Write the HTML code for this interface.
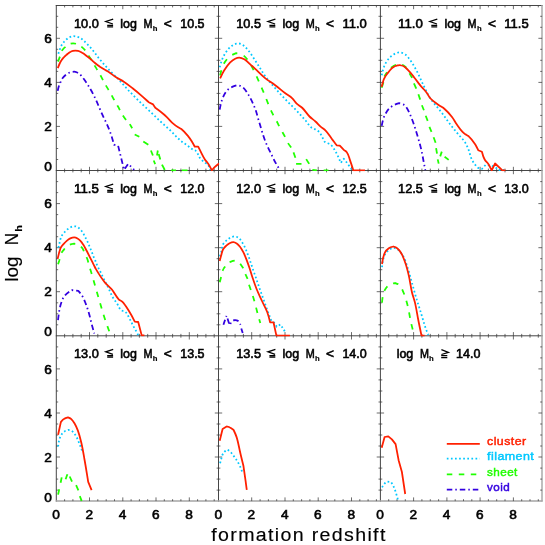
<!DOCTYPE html>
<html><head><meta charset="utf-8"><title>chart</title>
<style>html,body{margin:0;padding:0;background:#fff;}body{width:545px;height:545px;position:relative;overflow:hidden;font-family:"Liberation Sans",sans-serif;}</style>
</head><body>
<svg width="545" height="545" viewBox="0 0 545 545" style="position:absolute;left:0;top:0;opacity:0.999;will-change:transform">
<rect width="545" height="545" fill="#fff"/>
<defs>
<clipPath id="c00"><rect x="56.3" y="4.5" width="163.0" height="166.8"/></clipPath>
<clipPath id="c01"><rect x="218.5" y="4.5" width="162.7" height="166.8"/></clipPath>
<clipPath id="c02"><rect x="380.4" y="4.5" width="162.5" height="166.8"/></clipPath>
<clipPath id="c10"><rect x="56.3" y="169.5" width="163.0" height="167.1"/></clipPath>
<clipPath id="c11"><rect x="218.5" y="169.5" width="162.7" height="167.1"/></clipPath>
<clipPath id="c12"><rect x="380.4" y="169.5" width="162.5" height="167.1"/></clipPath>
<clipPath id="c20"><rect x="56.3" y="334.8" width="163.0" height="167.1"/></clipPath>
<clipPath id="c21"><rect x="218.5" y="334.8" width="162.7" height="167.1"/></clipPath>
<clipPath id="c22"><rect x="380.4" y="334.8" width="162.5" height="167.1"/></clipPath>
</defs>
<g stroke="#3c3c3c" stroke-width="0.95" fill="none">
<line x1="56.3" y1="5.0" x2="56.3" y2="501.6"/>
<line x1="218.5" y1="5.0" x2="218.5" y2="501.6"/>
<line x1="380.4" y1="5.0" x2="380.4" y2="501.6"/>
<line x1="55.8" y1="5.5" x2="542.6" y2="5.5"/>
<line x1="55.8" y1="170.5" x2="542.6" y2="170.5"/>
<line x1="55.8" y1="335.8" x2="542.6" y2="335.8"/>
</g>
<g stroke="#a4a4a4" stroke-width="1.4" fill="none">
<line x1="542.0" y1="5.0" x2="542.0" y2="501.6"/>
<line x1="55.8" y1="501.0" x2="542.6" y2="501.0"/>
</g>
<g stroke="#3c3c3c" stroke-width="0.75" fill="none">
<line x1="64.6" y1="5.5" x2="64.6" y2="7.4"/>
<line x1="64.6" y1="168.6" x2="64.6" y2="172.4"/>
<line x1="64.6" y1="333.9" x2="64.6" y2="337.7"/>
<line x1="64.6" y1="499.2" x2="64.6" y2="501.1"/>
<line x1="72.9" y1="5.5" x2="72.9" y2="7.4"/>
<line x1="72.9" y1="168.6" x2="72.9" y2="172.4"/>
<line x1="72.9" y1="333.9" x2="72.9" y2="337.7"/>
<line x1="72.9" y1="499.2" x2="72.9" y2="501.1"/>
<line x1="81.2" y1="5.5" x2="81.2" y2="7.4"/>
<line x1="81.2" y1="168.6" x2="81.2" y2="172.4"/>
<line x1="81.2" y1="333.9" x2="81.2" y2="337.7"/>
<line x1="81.2" y1="499.2" x2="81.2" y2="501.1"/>
<line x1="89.5" y1="5.5" x2="89.5" y2="9.2"/>
<line x1="89.5" y1="166.8" x2="89.5" y2="174.2"/>
<line x1="89.5" y1="332.1" x2="89.5" y2="339.5"/>
<line x1="89.5" y1="497.4" x2="89.5" y2="501.1"/>
<line x1="97.8" y1="5.5" x2="97.8" y2="7.4"/>
<line x1="97.8" y1="168.6" x2="97.8" y2="172.4"/>
<line x1="97.8" y1="333.9" x2="97.8" y2="337.7"/>
<line x1="97.8" y1="499.2" x2="97.8" y2="501.1"/>
<line x1="106.2" y1="5.5" x2="106.2" y2="7.4"/>
<line x1="106.2" y1="168.6" x2="106.2" y2="172.4"/>
<line x1="106.2" y1="333.9" x2="106.2" y2="337.7"/>
<line x1="106.2" y1="499.2" x2="106.2" y2="501.1"/>
<line x1="114.5" y1="5.5" x2="114.5" y2="7.4"/>
<line x1="114.5" y1="168.6" x2="114.5" y2="172.4"/>
<line x1="114.5" y1="333.9" x2="114.5" y2="337.7"/>
<line x1="114.5" y1="499.2" x2="114.5" y2="501.1"/>
<line x1="122.8" y1="5.5" x2="122.8" y2="9.2"/>
<line x1="122.8" y1="166.8" x2="122.8" y2="174.2"/>
<line x1="122.8" y1="332.1" x2="122.8" y2="339.5"/>
<line x1="122.8" y1="497.4" x2="122.8" y2="501.1"/>
<line x1="131.1" y1="5.5" x2="131.1" y2="7.4"/>
<line x1="131.1" y1="168.6" x2="131.1" y2="172.4"/>
<line x1="131.1" y1="333.9" x2="131.1" y2="337.7"/>
<line x1="131.1" y1="499.2" x2="131.1" y2="501.1"/>
<line x1="139.4" y1="5.5" x2="139.4" y2="7.4"/>
<line x1="139.4" y1="168.6" x2="139.4" y2="172.4"/>
<line x1="139.4" y1="333.9" x2="139.4" y2="337.7"/>
<line x1="139.4" y1="499.2" x2="139.4" y2="501.1"/>
<line x1="147.7" y1="5.5" x2="147.7" y2="7.4"/>
<line x1="147.7" y1="168.6" x2="147.7" y2="172.4"/>
<line x1="147.7" y1="333.9" x2="147.7" y2="337.7"/>
<line x1="147.7" y1="499.2" x2="147.7" y2="501.1"/>
<line x1="156.0" y1="5.5" x2="156.0" y2="9.2"/>
<line x1="156.0" y1="166.8" x2="156.0" y2="174.2"/>
<line x1="156.0" y1="332.1" x2="156.0" y2="339.5"/>
<line x1="156.0" y1="497.4" x2="156.0" y2="501.1"/>
<line x1="164.3" y1="5.5" x2="164.3" y2="7.4"/>
<line x1="164.3" y1="168.6" x2="164.3" y2="172.4"/>
<line x1="164.3" y1="333.9" x2="164.3" y2="337.7"/>
<line x1="164.3" y1="499.2" x2="164.3" y2="501.1"/>
<line x1="172.6" y1="5.5" x2="172.6" y2="7.4"/>
<line x1="172.6" y1="168.6" x2="172.6" y2="172.4"/>
<line x1="172.6" y1="333.9" x2="172.6" y2="337.7"/>
<line x1="172.6" y1="499.2" x2="172.6" y2="501.1"/>
<line x1="180.9" y1="5.5" x2="180.9" y2="7.4"/>
<line x1="180.9" y1="168.6" x2="180.9" y2="172.4"/>
<line x1="180.9" y1="333.9" x2="180.9" y2="337.7"/>
<line x1="180.9" y1="499.2" x2="180.9" y2="501.1"/>
<line x1="189.3" y1="5.5" x2="189.3" y2="9.2"/>
<line x1="189.3" y1="166.8" x2="189.3" y2="174.2"/>
<line x1="189.3" y1="332.1" x2="189.3" y2="339.5"/>
<line x1="189.3" y1="497.4" x2="189.3" y2="501.1"/>
<line x1="197.6" y1="5.5" x2="197.6" y2="7.4"/>
<line x1="197.6" y1="168.6" x2="197.6" y2="172.4"/>
<line x1="197.6" y1="333.9" x2="197.6" y2="337.7"/>
<line x1="197.6" y1="499.2" x2="197.6" y2="501.1"/>
<line x1="205.9" y1="5.5" x2="205.9" y2="7.4"/>
<line x1="205.9" y1="168.6" x2="205.9" y2="172.4"/>
<line x1="205.9" y1="333.9" x2="205.9" y2="337.7"/>
<line x1="205.9" y1="499.2" x2="205.9" y2="501.1"/>
<line x1="214.2" y1="5.5" x2="214.2" y2="7.4"/>
<line x1="214.2" y1="168.6" x2="214.2" y2="172.4"/>
<line x1="214.2" y1="333.9" x2="214.2" y2="337.7"/>
<line x1="214.2" y1="499.2" x2="214.2" y2="501.1"/>
<line x1="226.8" y1="5.5" x2="226.8" y2="7.4"/>
<line x1="226.8" y1="168.6" x2="226.8" y2="172.4"/>
<line x1="226.8" y1="333.9" x2="226.8" y2="337.7"/>
<line x1="226.8" y1="499.2" x2="226.8" y2="501.1"/>
<line x1="235.1" y1="5.5" x2="235.1" y2="7.4"/>
<line x1="235.1" y1="168.6" x2="235.1" y2="172.4"/>
<line x1="235.1" y1="333.9" x2="235.1" y2="337.7"/>
<line x1="235.1" y1="499.2" x2="235.1" y2="501.1"/>
<line x1="243.4" y1="5.5" x2="243.4" y2="7.4"/>
<line x1="243.4" y1="168.6" x2="243.4" y2="172.4"/>
<line x1="243.4" y1="333.9" x2="243.4" y2="337.7"/>
<line x1="243.4" y1="499.2" x2="243.4" y2="501.1"/>
<line x1="251.7" y1="5.5" x2="251.7" y2="9.2"/>
<line x1="251.7" y1="166.8" x2="251.7" y2="174.2"/>
<line x1="251.7" y1="332.1" x2="251.7" y2="339.5"/>
<line x1="251.7" y1="497.4" x2="251.7" y2="501.1"/>
<line x1="260.1" y1="5.5" x2="260.1" y2="7.4"/>
<line x1="260.1" y1="168.6" x2="260.1" y2="172.4"/>
<line x1="260.1" y1="333.9" x2="260.1" y2="337.7"/>
<line x1="260.1" y1="499.2" x2="260.1" y2="501.1"/>
<line x1="268.4" y1="5.5" x2="268.4" y2="7.4"/>
<line x1="268.4" y1="168.6" x2="268.4" y2="172.4"/>
<line x1="268.4" y1="333.9" x2="268.4" y2="337.7"/>
<line x1="268.4" y1="499.2" x2="268.4" y2="501.1"/>
<line x1="276.7" y1="5.5" x2="276.7" y2="7.4"/>
<line x1="276.7" y1="168.6" x2="276.7" y2="172.4"/>
<line x1="276.7" y1="333.9" x2="276.7" y2="337.7"/>
<line x1="276.7" y1="499.2" x2="276.7" y2="501.1"/>
<line x1="285.0" y1="5.5" x2="285.0" y2="9.2"/>
<line x1="285.0" y1="166.8" x2="285.0" y2="174.2"/>
<line x1="285.0" y1="332.1" x2="285.0" y2="339.5"/>
<line x1="285.0" y1="497.4" x2="285.0" y2="501.1"/>
<line x1="293.3" y1="5.5" x2="293.3" y2="7.4"/>
<line x1="293.3" y1="168.6" x2="293.3" y2="172.4"/>
<line x1="293.3" y1="333.9" x2="293.3" y2="337.7"/>
<line x1="293.3" y1="499.2" x2="293.3" y2="501.1"/>
<line x1="301.6" y1="5.5" x2="301.6" y2="7.4"/>
<line x1="301.6" y1="168.6" x2="301.6" y2="172.4"/>
<line x1="301.6" y1="333.9" x2="301.6" y2="337.7"/>
<line x1="301.6" y1="499.2" x2="301.6" y2="501.1"/>
<line x1="309.9" y1="5.5" x2="309.9" y2="7.4"/>
<line x1="309.9" y1="168.6" x2="309.9" y2="172.4"/>
<line x1="309.9" y1="333.9" x2="309.9" y2="337.7"/>
<line x1="309.9" y1="499.2" x2="309.9" y2="501.1"/>
<line x1="318.2" y1="5.5" x2="318.2" y2="9.2"/>
<line x1="318.2" y1="166.8" x2="318.2" y2="174.2"/>
<line x1="318.2" y1="332.1" x2="318.2" y2="339.5"/>
<line x1="318.2" y1="497.4" x2="318.2" y2="501.1"/>
<line x1="326.5" y1="5.5" x2="326.5" y2="7.4"/>
<line x1="326.5" y1="168.6" x2="326.5" y2="172.4"/>
<line x1="326.5" y1="333.9" x2="326.5" y2="337.7"/>
<line x1="326.5" y1="499.2" x2="326.5" y2="501.1"/>
<line x1="334.8" y1="5.5" x2="334.8" y2="7.4"/>
<line x1="334.8" y1="168.6" x2="334.8" y2="172.4"/>
<line x1="334.8" y1="333.9" x2="334.8" y2="337.7"/>
<line x1="334.8" y1="499.2" x2="334.8" y2="501.1"/>
<line x1="343.1" y1="5.5" x2="343.1" y2="7.4"/>
<line x1="343.1" y1="168.6" x2="343.1" y2="172.4"/>
<line x1="343.1" y1="333.9" x2="343.1" y2="337.7"/>
<line x1="343.1" y1="499.2" x2="343.1" y2="501.1"/>
<line x1="351.5" y1="5.5" x2="351.5" y2="9.2"/>
<line x1="351.5" y1="166.8" x2="351.5" y2="174.2"/>
<line x1="351.5" y1="332.1" x2="351.5" y2="339.5"/>
<line x1="351.5" y1="497.4" x2="351.5" y2="501.1"/>
<line x1="359.8" y1="5.5" x2="359.8" y2="7.4"/>
<line x1="359.8" y1="168.6" x2="359.8" y2="172.4"/>
<line x1="359.8" y1="333.9" x2="359.8" y2="337.7"/>
<line x1="359.8" y1="499.2" x2="359.8" y2="501.1"/>
<line x1="368.1" y1="5.5" x2="368.1" y2="7.4"/>
<line x1="368.1" y1="168.6" x2="368.1" y2="172.4"/>
<line x1="368.1" y1="333.9" x2="368.1" y2="337.7"/>
<line x1="368.1" y1="499.2" x2="368.1" y2="501.1"/>
<line x1="376.4" y1="5.5" x2="376.4" y2="7.4"/>
<line x1="376.4" y1="168.6" x2="376.4" y2="172.4"/>
<line x1="376.4" y1="333.9" x2="376.4" y2="337.7"/>
<line x1="376.4" y1="499.2" x2="376.4" y2="501.1"/>
<line x1="388.7" y1="5.5" x2="388.7" y2="7.4"/>
<line x1="388.7" y1="168.6" x2="388.7" y2="172.4"/>
<line x1="388.7" y1="333.9" x2="388.7" y2="337.7"/>
<line x1="388.7" y1="499.2" x2="388.7" y2="501.1"/>
<line x1="397.0" y1="5.5" x2="397.0" y2="7.4"/>
<line x1="397.0" y1="168.6" x2="397.0" y2="172.4"/>
<line x1="397.0" y1="333.9" x2="397.0" y2="337.7"/>
<line x1="397.0" y1="499.2" x2="397.0" y2="501.1"/>
<line x1="405.3" y1="5.5" x2="405.3" y2="7.4"/>
<line x1="405.3" y1="168.6" x2="405.3" y2="172.4"/>
<line x1="405.3" y1="333.9" x2="405.3" y2="337.7"/>
<line x1="405.3" y1="499.2" x2="405.3" y2="501.1"/>
<line x1="413.6" y1="5.5" x2="413.6" y2="9.2"/>
<line x1="413.6" y1="166.8" x2="413.6" y2="174.2"/>
<line x1="413.6" y1="332.1" x2="413.6" y2="339.5"/>
<line x1="413.6" y1="497.4" x2="413.6" y2="501.1"/>
<line x1="421.9" y1="5.5" x2="421.9" y2="7.4"/>
<line x1="421.9" y1="168.6" x2="421.9" y2="172.4"/>
<line x1="421.9" y1="333.9" x2="421.9" y2="337.7"/>
<line x1="421.9" y1="499.2" x2="421.9" y2="501.1"/>
<line x1="430.3" y1="5.5" x2="430.3" y2="7.4"/>
<line x1="430.3" y1="168.6" x2="430.3" y2="172.4"/>
<line x1="430.3" y1="333.9" x2="430.3" y2="337.7"/>
<line x1="430.3" y1="499.2" x2="430.3" y2="501.1"/>
<line x1="438.6" y1="5.5" x2="438.6" y2="7.4"/>
<line x1="438.6" y1="168.6" x2="438.6" y2="172.4"/>
<line x1="438.6" y1="333.9" x2="438.6" y2="337.7"/>
<line x1="438.6" y1="499.2" x2="438.6" y2="501.1"/>
<line x1="446.9" y1="5.5" x2="446.9" y2="9.2"/>
<line x1="446.9" y1="166.8" x2="446.9" y2="174.2"/>
<line x1="446.9" y1="332.1" x2="446.9" y2="339.5"/>
<line x1="446.9" y1="497.4" x2="446.9" y2="501.1"/>
<line x1="455.2" y1="5.5" x2="455.2" y2="7.4"/>
<line x1="455.2" y1="168.6" x2="455.2" y2="172.4"/>
<line x1="455.2" y1="333.9" x2="455.2" y2="337.7"/>
<line x1="455.2" y1="499.2" x2="455.2" y2="501.1"/>
<line x1="463.5" y1="5.5" x2="463.5" y2="7.4"/>
<line x1="463.5" y1="168.6" x2="463.5" y2="172.4"/>
<line x1="463.5" y1="333.9" x2="463.5" y2="337.7"/>
<line x1="463.5" y1="499.2" x2="463.5" y2="501.1"/>
<line x1="471.8" y1="5.5" x2="471.8" y2="7.4"/>
<line x1="471.8" y1="168.6" x2="471.8" y2="172.4"/>
<line x1="471.8" y1="333.9" x2="471.8" y2="337.7"/>
<line x1="471.8" y1="499.2" x2="471.8" y2="501.1"/>
<line x1="480.1" y1="5.5" x2="480.1" y2="9.2"/>
<line x1="480.1" y1="166.8" x2="480.1" y2="174.2"/>
<line x1="480.1" y1="332.1" x2="480.1" y2="339.5"/>
<line x1="480.1" y1="497.4" x2="480.1" y2="501.1"/>
<line x1="488.4" y1="5.5" x2="488.4" y2="7.4"/>
<line x1="488.4" y1="168.6" x2="488.4" y2="172.4"/>
<line x1="488.4" y1="333.9" x2="488.4" y2="337.7"/>
<line x1="488.4" y1="499.2" x2="488.4" y2="501.1"/>
<line x1="496.7" y1="5.5" x2="496.7" y2="7.4"/>
<line x1="496.7" y1="168.6" x2="496.7" y2="172.4"/>
<line x1="496.7" y1="333.9" x2="496.7" y2="337.7"/>
<line x1="496.7" y1="499.2" x2="496.7" y2="501.1"/>
<line x1="505.0" y1="5.5" x2="505.0" y2="7.4"/>
<line x1="505.0" y1="168.6" x2="505.0" y2="172.4"/>
<line x1="505.0" y1="333.9" x2="505.0" y2="337.7"/>
<line x1="505.0" y1="499.2" x2="505.0" y2="501.1"/>
<line x1="513.4" y1="5.5" x2="513.4" y2="9.2"/>
<line x1="513.4" y1="166.8" x2="513.4" y2="174.2"/>
<line x1="513.4" y1="332.1" x2="513.4" y2="339.5"/>
<line x1="513.4" y1="497.4" x2="513.4" y2="501.1"/>
<line x1="521.7" y1="5.5" x2="521.7" y2="7.4"/>
<line x1="521.7" y1="168.6" x2="521.7" y2="172.4"/>
<line x1="521.7" y1="333.9" x2="521.7" y2="337.7"/>
<line x1="521.7" y1="499.2" x2="521.7" y2="501.1"/>
<line x1="530.0" y1="5.5" x2="530.0" y2="7.4"/>
<line x1="530.0" y1="168.6" x2="530.0" y2="172.4"/>
<line x1="530.0" y1="333.9" x2="530.0" y2="337.7"/>
<line x1="530.0" y1="499.2" x2="530.0" y2="501.1"/>
<line x1="538.3" y1="5.5" x2="538.3" y2="7.4"/>
<line x1="538.3" y1="168.6" x2="538.3" y2="172.4"/>
<line x1="538.3" y1="333.9" x2="538.3" y2="337.7"/>
<line x1="538.3" y1="499.2" x2="538.3" y2="501.1"/>
<line x1="56.3" y1="159.5" x2="58.2" y2="159.5"/>
<line x1="216.6" y1="159.5" x2="220.4" y2="159.5"/>
<line x1="378.5" y1="159.5" x2="382.3" y2="159.5"/>
<line x1="540.2" y1="159.5" x2="542.1" y2="159.5"/>
<line x1="56.3" y1="148.5" x2="58.2" y2="148.5"/>
<line x1="216.6" y1="148.5" x2="220.4" y2="148.5"/>
<line x1="378.5" y1="148.5" x2="382.3" y2="148.5"/>
<line x1="540.2" y1="148.5" x2="542.1" y2="148.5"/>
<line x1="56.3" y1="137.5" x2="58.2" y2="137.5"/>
<line x1="216.6" y1="137.5" x2="220.4" y2="137.5"/>
<line x1="378.5" y1="137.5" x2="382.3" y2="137.5"/>
<line x1="540.2" y1="137.5" x2="542.1" y2="137.5"/>
<line x1="56.3" y1="126.4" x2="60.0" y2="126.4"/>
<line x1="214.8" y1="126.4" x2="222.2" y2="126.4"/>
<line x1="376.7" y1="126.4" x2="384.1" y2="126.4"/>
<line x1="538.4" y1="126.4" x2="542.1" y2="126.4"/>
<line x1="56.3" y1="115.4" x2="58.2" y2="115.4"/>
<line x1="216.6" y1="115.4" x2="220.4" y2="115.4"/>
<line x1="378.5" y1="115.4" x2="382.3" y2="115.4"/>
<line x1="540.2" y1="115.4" x2="542.1" y2="115.4"/>
<line x1="56.3" y1="104.4" x2="58.2" y2="104.4"/>
<line x1="216.6" y1="104.4" x2="220.4" y2="104.4"/>
<line x1="378.5" y1="104.4" x2="382.3" y2="104.4"/>
<line x1="540.2" y1="104.4" x2="542.1" y2="104.4"/>
<line x1="56.3" y1="93.4" x2="58.2" y2="93.4"/>
<line x1="216.6" y1="93.4" x2="220.4" y2="93.4"/>
<line x1="378.5" y1="93.4" x2="382.3" y2="93.4"/>
<line x1="540.2" y1="93.4" x2="542.1" y2="93.4"/>
<line x1="56.3" y1="82.4" x2="60.0" y2="82.4"/>
<line x1="214.8" y1="82.4" x2="222.2" y2="82.4"/>
<line x1="376.7" y1="82.4" x2="384.1" y2="82.4"/>
<line x1="538.4" y1="82.4" x2="542.1" y2="82.4"/>
<line x1="56.3" y1="71.4" x2="58.2" y2="71.4"/>
<line x1="216.6" y1="71.4" x2="220.4" y2="71.4"/>
<line x1="378.5" y1="71.4" x2="382.3" y2="71.4"/>
<line x1="540.2" y1="71.4" x2="542.1" y2="71.4"/>
<line x1="56.3" y1="60.3" x2="58.2" y2="60.3"/>
<line x1="216.6" y1="60.3" x2="220.4" y2="60.3"/>
<line x1="378.5" y1="60.3" x2="382.3" y2="60.3"/>
<line x1="540.2" y1="60.3" x2="542.1" y2="60.3"/>
<line x1="56.3" y1="49.3" x2="58.2" y2="49.3"/>
<line x1="216.6" y1="49.3" x2="220.4" y2="49.3"/>
<line x1="378.5" y1="49.3" x2="382.3" y2="49.3"/>
<line x1="540.2" y1="49.3" x2="542.1" y2="49.3"/>
<line x1="56.3" y1="38.3" x2="60.0" y2="38.3"/>
<line x1="214.8" y1="38.3" x2="222.2" y2="38.3"/>
<line x1="376.7" y1="38.3" x2="384.1" y2="38.3"/>
<line x1="538.4" y1="38.3" x2="542.1" y2="38.3"/>
<line x1="56.3" y1="27.3" x2="58.2" y2="27.3"/>
<line x1="216.6" y1="27.3" x2="220.4" y2="27.3"/>
<line x1="378.5" y1="27.3" x2="382.3" y2="27.3"/>
<line x1="540.2" y1="27.3" x2="542.1" y2="27.3"/>
<line x1="56.3" y1="16.3" x2="58.2" y2="16.3"/>
<line x1="216.6" y1="16.3" x2="220.4" y2="16.3"/>
<line x1="378.5" y1="16.3" x2="382.3" y2="16.3"/>
<line x1="540.2" y1="16.3" x2="542.1" y2="16.3"/>
<line x1="56.3" y1="324.8" x2="58.2" y2="324.8"/>
<line x1="216.6" y1="324.8" x2="220.4" y2="324.8"/>
<line x1="378.5" y1="324.8" x2="382.3" y2="324.8"/>
<line x1="540.2" y1="324.8" x2="542.1" y2="324.8"/>
<line x1="56.3" y1="313.8" x2="58.2" y2="313.8"/>
<line x1="216.6" y1="313.8" x2="220.4" y2="313.8"/>
<line x1="378.5" y1="313.8" x2="382.3" y2="313.8"/>
<line x1="540.2" y1="313.8" x2="542.1" y2="313.8"/>
<line x1="56.3" y1="302.8" x2="58.2" y2="302.8"/>
<line x1="216.6" y1="302.8" x2="220.4" y2="302.8"/>
<line x1="378.5" y1="302.8" x2="382.3" y2="302.8"/>
<line x1="540.2" y1="302.8" x2="542.1" y2="302.8"/>
<line x1="56.3" y1="291.7" x2="60.0" y2="291.7"/>
<line x1="214.8" y1="291.7" x2="222.2" y2="291.7"/>
<line x1="376.7" y1="291.7" x2="384.1" y2="291.7"/>
<line x1="538.4" y1="291.7" x2="542.1" y2="291.7"/>
<line x1="56.3" y1="280.7" x2="58.2" y2="280.7"/>
<line x1="216.6" y1="280.7" x2="220.4" y2="280.7"/>
<line x1="378.5" y1="280.7" x2="382.3" y2="280.7"/>
<line x1="540.2" y1="280.7" x2="542.1" y2="280.7"/>
<line x1="56.3" y1="269.7" x2="58.2" y2="269.7"/>
<line x1="216.6" y1="269.7" x2="220.4" y2="269.7"/>
<line x1="378.5" y1="269.7" x2="382.3" y2="269.7"/>
<line x1="540.2" y1="269.7" x2="542.1" y2="269.7"/>
<line x1="56.3" y1="258.7" x2="58.2" y2="258.7"/>
<line x1="216.6" y1="258.7" x2="220.4" y2="258.7"/>
<line x1="378.5" y1="258.7" x2="382.3" y2="258.7"/>
<line x1="540.2" y1="258.7" x2="542.1" y2="258.7"/>
<line x1="56.3" y1="247.7" x2="60.0" y2="247.7"/>
<line x1="214.8" y1="247.7" x2="222.2" y2="247.7"/>
<line x1="376.7" y1="247.7" x2="384.1" y2="247.7"/>
<line x1="538.4" y1="247.7" x2="542.1" y2="247.7"/>
<line x1="56.3" y1="236.7" x2="58.2" y2="236.7"/>
<line x1="216.6" y1="236.7" x2="220.4" y2="236.7"/>
<line x1="378.5" y1="236.7" x2="382.3" y2="236.7"/>
<line x1="540.2" y1="236.7" x2="542.1" y2="236.7"/>
<line x1="56.3" y1="225.7" x2="58.2" y2="225.7"/>
<line x1="216.6" y1="225.7" x2="220.4" y2="225.7"/>
<line x1="378.5" y1="225.7" x2="382.3" y2="225.7"/>
<line x1="540.2" y1="225.7" x2="542.1" y2="225.7"/>
<line x1="56.3" y1="214.6" x2="58.2" y2="214.6"/>
<line x1="216.6" y1="214.6" x2="220.4" y2="214.6"/>
<line x1="378.5" y1="214.6" x2="382.3" y2="214.6"/>
<line x1="540.2" y1="214.6" x2="542.1" y2="214.6"/>
<line x1="56.3" y1="203.6" x2="60.0" y2="203.6"/>
<line x1="214.8" y1="203.6" x2="222.2" y2="203.6"/>
<line x1="376.7" y1="203.6" x2="384.1" y2="203.6"/>
<line x1="538.4" y1="203.6" x2="542.1" y2="203.6"/>
<line x1="56.3" y1="192.6" x2="58.2" y2="192.6"/>
<line x1="216.6" y1="192.6" x2="220.4" y2="192.6"/>
<line x1="378.5" y1="192.6" x2="382.3" y2="192.6"/>
<line x1="540.2" y1="192.6" x2="542.1" y2="192.6"/>
<line x1="56.3" y1="181.6" x2="58.2" y2="181.6"/>
<line x1="216.6" y1="181.6" x2="220.4" y2="181.6"/>
<line x1="378.5" y1="181.6" x2="382.3" y2="181.6"/>
<line x1="540.2" y1="181.6" x2="542.1" y2="181.6"/>
<line x1="56.3" y1="490.1" x2="58.2" y2="490.1"/>
<line x1="216.6" y1="490.1" x2="220.4" y2="490.1"/>
<line x1="378.5" y1="490.1" x2="382.3" y2="490.1"/>
<line x1="540.2" y1="490.1" x2="542.1" y2="490.1"/>
<line x1="56.3" y1="479.1" x2="58.2" y2="479.1"/>
<line x1="216.6" y1="479.1" x2="220.4" y2="479.1"/>
<line x1="378.5" y1="479.1" x2="382.3" y2="479.1"/>
<line x1="540.2" y1="479.1" x2="542.1" y2="479.1"/>
<line x1="56.3" y1="468.1" x2="58.2" y2="468.1"/>
<line x1="216.6" y1="468.1" x2="220.4" y2="468.1"/>
<line x1="378.5" y1="468.1" x2="382.3" y2="468.1"/>
<line x1="540.2" y1="468.1" x2="542.1" y2="468.1"/>
<line x1="56.3" y1="457.0" x2="60.0" y2="457.0"/>
<line x1="214.8" y1="457.0" x2="222.2" y2="457.0"/>
<line x1="376.7" y1="457.0" x2="384.1" y2="457.0"/>
<line x1="538.4" y1="457.0" x2="542.1" y2="457.0"/>
<line x1="56.3" y1="446.0" x2="58.2" y2="446.0"/>
<line x1="216.6" y1="446.0" x2="220.4" y2="446.0"/>
<line x1="378.5" y1="446.0" x2="382.3" y2="446.0"/>
<line x1="540.2" y1="446.0" x2="542.1" y2="446.0"/>
<line x1="56.3" y1="435.0" x2="58.2" y2="435.0"/>
<line x1="216.6" y1="435.0" x2="220.4" y2="435.0"/>
<line x1="378.5" y1="435.0" x2="382.3" y2="435.0"/>
<line x1="540.2" y1="435.0" x2="542.1" y2="435.0"/>
<line x1="56.3" y1="424.0" x2="58.2" y2="424.0"/>
<line x1="216.6" y1="424.0" x2="220.4" y2="424.0"/>
<line x1="378.5" y1="424.0" x2="382.3" y2="424.0"/>
<line x1="540.2" y1="424.0" x2="542.1" y2="424.0"/>
<line x1="56.3" y1="413.0" x2="60.0" y2="413.0"/>
<line x1="214.8" y1="413.0" x2="222.2" y2="413.0"/>
<line x1="376.7" y1="413.0" x2="384.1" y2="413.0"/>
<line x1="538.4" y1="413.0" x2="542.1" y2="413.0"/>
<line x1="56.3" y1="402.0" x2="58.2" y2="402.0"/>
<line x1="216.6" y1="402.0" x2="220.4" y2="402.0"/>
<line x1="378.5" y1="402.0" x2="382.3" y2="402.0"/>
<line x1="540.2" y1="402.0" x2="542.1" y2="402.0"/>
<line x1="56.3" y1="391.0" x2="58.2" y2="391.0"/>
<line x1="216.6" y1="391.0" x2="220.4" y2="391.0"/>
<line x1="378.5" y1="391.0" x2="382.3" y2="391.0"/>
<line x1="540.2" y1="391.0" x2="542.1" y2="391.0"/>
<line x1="56.3" y1="379.9" x2="58.2" y2="379.9"/>
<line x1="216.6" y1="379.9" x2="220.4" y2="379.9"/>
<line x1="378.5" y1="379.9" x2="382.3" y2="379.9"/>
<line x1="540.2" y1="379.9" x2="542.1" y2="379.9"/>
<line x1="56.3" y1="368.9" x2="60.0" y2="368.9"/>
<line x1="214.8" y1="368.9" x2="222.2" y2="368.9"/>
<line x1="376.7" y1="368.9" x2="384.1" y2="368.9"/>
<line x1="538.4" y1="368.9" x2="542.1" y2="368.9"/>
<line x1="56.3" y1="357.9" x2="58.2" y2="357.9"/>
<line x1="216.6" y1="357.9" x2="220.4" y2="357.9"/>
<line x1="378.5" y1="357.9" x2="382.3" y2="357.9"/>
<line x1="540.2" y1="357.9" x2="542.1" y2="357.9"/>
<line x1="56.3" y1="346.9" x2="58.2" y2="346.9"/>
<line x1="216.6" y1="346.9" x2="220.4" y2="346.9"/>
<line x1="378.5" y1="346.9" x2="382.3" y2="346.9"/>
<line x1="540.2" y1="346.9" x2="542.1" y2="346.9"/>
</g>
<g clip-path="url(#c00)" fill="none" stroke-width="1.78" stroke-linejoin="round">
<path d="M58.3,53.7 C58.8,52.4 59.2,51.0 59.7,49.7 C60.1,48.6 60.5,47.4 61.0,46.3 C61.6,45.1 62.4,43.9 63.2,42.8 C64.0,41.8 64.9,40.8 65.9,39.9 C66.9,39.0 67.8,38.1 69.0,37.5 C70.2,36.9 71.5,36.4 72.8,36.2 C74.2,36.0 75.6,36.3 76.9,36.6 C78.3,37.0 79.6,37.6 80.8,38.3 C81.9,39.0 82.8,39.9 83.8,40.8 C84.8,41.7 85.7,42.6 86.7,43.6 C87.7,44.6 88.6,45.5 89.5,46.5 C90.4,47.4 91.2,48.4 92.0,49.4 C92.9,50.4 93.7,51.5 94.5,52.5 C95.3,53.6 96.2,54.6 97.0,55.7 C97.9,56.9 98.7,58.1 99.6,59.2 C100.4,60.2 101.3,61.1 102.1,62.1 C102.9,63.1 103.8,64.0 104.6,65.0 C106.5,67.2 108.5,69.3 110.5,71.4 C113.6,74.7 117.0,77.8 120.1,81.1 C123.5,84.7 126.7,88.6 130.2,92.2 C133.5,95.6 136.9,99.0 140.3,102.3 C143.6,105.5 147.0,108.6 150.4,111.8 C153.8,115.0 157.1,118.3 160.5,121.5 C163.8,124.6 167.2,127.5 170.5,130.6 C173.9,133.9 177.0,137.6 180.6,140.7 C182.8,142.6 185.4,144.0 187.7,145.7 C189.4,146.9 190.9,148.4 192.7,149.4 C193.7,150.0 195.0,150.0 195.8,150.8 C197.8,152.6 198.2,155.7 199.8,157.8 C200.9,159.3 202.4,160.6 203.8,161.9 C205.1,163.0 206.8,163.6 207.9,164.9 C209.1,166.3 209.7,168.1 210.3,169.9" stroke="#00c8ff" stroke-dasharray="1.7 2.4"/>
<path d="M58.0,61.7 C58.7,60.0 59.3,58.3 59.9,56.6 C60.5,54.9 60.7,53.0 61.5,51.4 C62.0,50.4 62.7,49.4 63.5,48.6 C64.1,47.9 64.9,47.4 65.6,46.8 C66.4,46.2 67.2,45.5 68.0,45.0 C68.7,44.5 69.4,44.1 70.2,43.8 C71.2,43.5 72.2,43.4 73.2,43.4 C74.2,43.4 75.2,43.5 76.2,43.8 C77.2,44.1 78.1,44.5 79.0,45.0 C79.8,45.4 80.5,45.9 81.2,46.5 C82.7,47.7 84.2,49.1 85.4,50.6 C86.7,52.2 87.5,54.0 88.6,55.7 C89.6,57.3 90.8,58.7 91.8,60.3 C92.8,61.9 93.6,63.7 94.5,65.3 C95.4,66.9 96.4,68.4 97.3,70.0 C98.3,71.7 99.3,73.4 100.3,75.1 C102.1,78.2 103.6,81.5 105.4,84.6 C107.0,87.5 108.9,90.3 110.5,93.2 C111.8,95.4 112.9,97.8 114.2,100.0 C115.5,102.3 116.8,104.4 118.1,106.7 C119.5,109.3 120.8,112.0 122.3,114.5 C123.4,116.4 124.7,118.1 126.0,119.9" stroke="#20ff00" stroke-dasharray="5.4 6.12" pathLength="120.60"/>
<path d="M129.8,124.1 L132.2,128.3" stroke="#20ff00" />
<path d="M134.7,134.5 L139.3,136.8" stroke="#20ff00" />
<path d="M143.3,141.5 L148.3,144.8" stroke="#20ff00" />
<path d="M150.9,150.5 L152.9,155.5" stroke="#20ff00" />
<path d="M153.7,160.5 L155.2,164.2" stroke="#20ff00" />
<path d="M157.0,155.5 L157.8,150.5" stroke="#20ff00" />
<path d="M158.7,153.9 L160.3,159.6" stroke="#20ff00" />
<path d="M162.0,164.6 L164.8,170.0" stroke="#20ff00" />
<path d="M171.1,170.3 L176.0,170.3" stroke="#20ff00" />
<path d="M181.8,170.3 L187.6,170.3" stroke="#20ff00" />
<path d="M57.7,90.9 C58.1,88.8 58.6,86.8 59.3,84.8 C59.6,83.9 60.2,83.0 60.6,82.1 C61.1,81.0 61.4,79.8 62.1,78.8 C63.1,77.2 64.5,75.9 65.9,74.7 C66.9,73.9 68.0,73.2 69.2,72.7 C70.2,72.3 71.4,72.0 72.5,71.8 C73.4,71.7 74.4,71.6 75.3,71.8 C76.3,72.0 77.2,72.4 78.0,72.9 C79.2,73.6 80.3,74.7 81.3,75.7 C82.0,76.5 82.7,77.3 83.3,78.2 C84.5,79.8 85.7,81.5 86.8,83.2 C88.0,85.0 89.0,86.9 90.1,88.7 C91.2,90.5 92.2,92.3 93.2,94.2 C94.3,96.2 95.2,98.3 96.2,100.4 C97.0,102.1 97.7,103.8 98.4,105.5 C99.3,107.6 100.2,109.7 101.1,111.8 C104.0,118.4 107.5,124.8 110.0,131.6 C111.6,135.9 112.8,140.3 114.0,144.7 L118.1,145.7 C119.1,149.7 120.1,153.8 121.1,157.8 C122.1,161.8 123.1,165.9 124.1,169.9 L128.2,163.9 L134.2,169.9" stroke="#3300e0" stroke-dasharray="5.5 3 1.5 3"/>
<path d="M57.8,68.1 C58.4,66.5 59.0,65.0 59.7,63.5 C60.2,62.4 60.8,61.3 61.5,60.3 C62.2,59.2 62.9,58.2 63.8,57.3 C64.5,56.5 65.3,55.9 66.1,55.2 C66.9,54.5 67.6,53.8 68.4,53.2 C69.1,52.6 69.9,52.1 70.7,51.7 C71.4,51.3 72.2,51.1 73.0,50.9 C73.8,50.7 74.5,50.6 75.3,50.6 C76.2,50.6 77.1,50.7 78.0,50.9 C78.8,51.1 79.6,51.4 80.3,51.8 C81.1,52.2 81.9,52.6 82.6,53.1 C83.9,53.9 85.1,54.8 86.3,55.7 C87.9,56.9 89.4,58.1 90.9,59.4 C92.3,60.6 93.6,61.9 95.0,63.0 C96.7,64.4 98.5,65.7 100.3,67.0 C101.7,67.9 103.1,68.8 104.5,69.6 C106.0,70.5 107.6,71.2 109.1,72.2 C111.4,73.7 113.4,75.5 115.7,77.0 C118.3,78.7 121.2,80.0 123.8,81.7 C126.9,83.7 129.7,86.0 132.6,88.3 C135.6,90.7 138.5,93.1 141.4,95.6 C143.9,97.7 146.3,100.0 148.7,102.2 L153.1,104.4 L155.3,107.8 C158.1,109.8 160.8,111.8 163.4,114.0 C165.2,115.5 166.8,117.2 168.5,118.8 C169.9,120.2 171.1,121.8 172.6,123.1 C174.5,124.8 176.5,126.3 178.6,127.6 C179.6,128.2 180.7,128.5 181.6,129.2 C183.9,131.0 185.8,133.3 187.7,135.6 C189.2,137.4 190.5,139.3 191.7,141.3 C192.8,143.1 193.8,144.9 194.8,146.7 L198.2,146.7 C199.4,149.1 200.6,151.5 201.8,153.8 C202.8,155.7 203.7,157.6 204.9,159.4 C205.8,160.8 207.0,161.9 207.9,163.3 C209.4,165.5 210.6,167.9 211.9,170.3 C212.9,169.1 213.8,168.0 214.9,166.9 C216.2,165.7 217.6,164.6 219.0,163.5" stroke="#ff2000" />
</g>
<g clip-path="url(#c01)" fill="none" stroke-width="1.78" stroke-linejoin="round">
<path d="M219.7,67.3 C220.9,63.1 222.0,59.0 224.1,55.2 C225.7,52.3 227.7,49.4 230.2,47.2 C231.9,45.7 233.9,44.2 236.2,43.7 C237.9,43.3 239.7,43.4 241.3,44.1 C243.7,45.1 245.5,47.3 247.3,49.2 C249.3,51.3 250.8,53.8 252.4,56.2 C255.0,60.1 257.5,64.1 260.0,68.0 C261.7,70.7 263.2,73.5 265.1,76.1 C268.2,80.3 271.7,84.2 275.2,88.2 C278.5,92.0 281.8,95.7 285.3,99.3 C288.6,102.7 292.1,106.0 295.4,109.4 C298.9,113.0 302.2,116.7 305.5,120.5 C307.5,122.8 309.1,125.7 311.5,127.6 C313.3,129.0 315.8,129.2 317.6,130.6 C319.3,131.9 320.5,133.8 321.6,135.6 C322.8,137.5 323.0,140.1 324.6,141.7 C326.2,143.3 329.0,143.2 330.7,144.7 C332.9,146.6 334.3,149.3 335.7,151.8 C337.7,155.3 339.3,159.1 340.8,162.9 L343.8,158.8 C345.2,160.5 346.5,162.2 347.8,163.9 C349.2,165.9 350.6,167.9 351.9,169.9" stroke="#00c8ff" stroke-dasharray="1.7 2.4"/>
<path d="M220.1,75.4 C221.1,71.2 222.0,67.0 224.1,63.3 C225.6,60.6 227.7,58.1 230.2,56.2 C232.0,54.8 234.1,54.0 236.2,53.2 C238.3,53.4 240.5,53.5 242.3,54.6 C245.3,56.4 247.3,59.5 249.3,62.3 C251.6,65.6 253.2,69.4 255.0,73.1 C257.9,79.0 260.5,85.1 263.1,91.2 C266.3,98.5 268.8,106.1 272.3,113.2 C273.1,114.9 274.2,116.4 275.1,118.0 C276.8,121.2 278.3,124.5 280.0,127.7 C281.7,131.0 283.7,134.2 285.4,137.6 C286.3,139.4 287.0,141.4 288.0,143.1 C288.9,144.7 290.1,146.1 291.2,147.5" stroke="#20ff00" stroke-dasharray="5.4 6.89" pathLength="140.59"/>
<path d="M293.5,152.4 L295.4,157.8" stroke="#20ff00" />
<path d="M296.1,163.8 L301.5,163.8" stroke="#20ff00" />
<path d="M306.2,159.1 L309.2,163.9" stroke="#20ff00" />
<path d="M312.4,169.9 L316.9,170.4" stroke="#20ff00" />
<path d="M323.7,170.3 L328.4,170.3" stroke="#20ff00" />
<path d="M219.7,109.7 C220.3,106.3 220.9,102.8 222.1,99.6 C223.3,96.4 224.8,93.1 227.1,90.5 C228.5,88.9 230.4,87.9 232.2,86.9 C233.8,86.1 235.5,85.6 237.2,85.1 C239.0,85.5 240.8,85.8 242.3,86.9 C244.9,88.8 246.6,91.8 248.3,94.6 C251.0,98.9 253.1,103.6 255.0,108.4 C256.7,112.6 257.6,117.1 259.0,121.5 C261.0,127.9 262.7,134.4 265.1,140.7 C266.8,145.2 269.0,149.5 271.1,153.8 C272.7,157.2 274.3,160.6 276.2,163.9 C277.4,166.0 278.8,168.1 280.2,170.1" stroke="#3300e0" stroke-dasharray="5.5 3 1.5 3"/>
<path d="M220.1,78.4 C221.3,75.7 222.5,72.9 224.1,70.4 C225.9,67.5 227.8,64.7 230.2,62.3 C231.7,60.9 233.3,59.6 235.2,58.7 C236.4,58.1 237.8,57.6 239.2,57.6 C241.0,57.6 242.7,58.4 244.3,59.3 C247.4,61.1 249.7,64.0 252.4,66.3 C253.3,67.1 254.1,67.8 255.0,68.6 C258.4,71.7 261.5,75.2 265.1,78.1 C268.3,80.7 271.9,82.7 275.2,85.2 C278.7,87.8 281.9,90.7 285.3,93.3 C287.6,95.0 290.2,96.3 292.3,98.3 C293.9,99.8 294.9,101.8 296.4,103.3 C298.2,105.1 300.6,106.2 302.4,108.0 C305.1,110.6 306.9,113.9 309.5,116.5 C311.3,118.3 313.6,119.7 315.5,121.5 C317.3,123.1 318.8,125.0 320.6,126.6 C322.2,128.0 324.1,129.1 325.6,130.6 C328.0,133.0 329.7,136.0 331.7,138.7 C333.4,140.9 335.0,143.1 336.7,145.3 L339.8,145.7 C341.1,147.1 342.4,148.5 343.8,149.8 C344.7,150.7 346.0,151.2 346.8,152.2 C348.5,154.4 349.0,157.3 349.9,159.9 C351.1,163.3 352.2,166.8 353.3,170.3 L365.0,170.3" stroke="#ff2000" />
</g>
<g clip-path="url(#c02)" fill="none" stroke-width="1.78" stroke-linejoin="round">
<path d="M381.7,75.3 C382.5,71.5 383.4,67.7 385.1,64.2 C386.4,61.6 388.0,59.2 390.1,57.2 C391.9,55.5 393.9,54.0 396.2,53.1 C397.5,52.6 398.9,52.3 400.2,52.5 C402.0,52.7 403.8,53.5 405.3,54.5 C407.4,56.0 408.8,58.2 410.3,60.2 C412.6,63.4 414.5,66.8 416.4,70.3 C419.4,75.9 421.7,81.8 424.5,87.4 C426.3,90.9 427.8,94.6 430.0,97.9 C433.4,103.1 437.9,107.6 441.7,112.6 C444.3,116.0 446.5,119.5 449.1,122.9 C451.9,126.6 454.9,130.3 457.9,133.9 C460.2,136.7 463.0,139.1 465.0,142.2 C466.6,144.7 467.6,147.5 468.7,150.2 C469.8,153.1 470.3,156.2 471.6,159.0 C472.6,161.1 473.9,163.1 475.3,164.9 C476.2,166.0 477.0,167.2 478.2,167.9 C479.3,168.5 480.6,168.7 481.9,168.9 L485.6,164.9 C487.3,165.1 489.0,165.3 490.7,165.7 C492.2,166.1 493.8,166.3 495.1,167.1 C496.3,167.8 497.1,168.9 498.0,170.0 L503.9,170.0" stroke="#00c8ff" stroke-dasharray="1.7 2.4"/>
<path d="M381.7,87.8 L383.3,82.8" stroke="#20ff00" />
<path d="M384.4,76.5 C384.8,75.8 385.2,75.0 385.7,74.3 C386.2,73.6 386.7,73.0 387.2,72.4" stroke="#20ff00" />
<path d="M391.0,67.9 C391.8,67.2 392.5,66.5 393.4,66.0 C394.2,65.5 395.1,65.1 396.0,64.7" stroke="#20ff00" />
<path d="M402.0,64.7 C402.8,65.1 403.6,65.4 404.3,65.9 C405.1,66.4 405.7,67.1 406.4,67.7" stroke="#20ff00" />
<path d="M409.5,73.2 L412.1,77.9" stroke="#20ff00" />
<path d="M413.9,83.4 L416.3,88.6" stroke="#20ff00" />
<path d="M418.4,94.3 L420.2,99.6" stroke="#20ff00" />
<path d="M421.9,105.2 L423.9,110.3" stroke="#20ff00" />
<path d="M425.7,115.8 L427.7,120.9" stroke="#20ff00" />
<path d="M429.4,126.8 L431.5,131.9" stroke="#20ff00" />
<path d="M433.6,137.2 L435.6,142.7" stroke="#20ff00" />
<path d="M436.1,148.2 L437.0,153.7" stroke="#20ff00" />
<path d="M437.7,159.4 L438.7,163.6" stroke="#20ff00" />
<path d="M440.2,156.4 L441.8,151.6" stroke="#20ff00" />
<path d="M444.6,156.7 L448.7,159.9" stroke="#20ff00" />
<path d="M381.7,125.8 C382.3,122.7 382.9,119.6 384.1,116.7 C385.4,113.8 386.9,110.9 389.1,108.6 C390.5,107.1 392.4,106.0 394.2,105.0 C395.8,104.2 397.5,103.7 399.2,103.2 C401.0,103.6 402.8,104.0 404.3,105.0 C405.2,105.6 405.9,106.6 406.5,107.5 C409.0,111.3 410.6,115.7 412.3,120.0 C414.0,124.3 415.3,128.8 416.7,133.2 C418.3,138.5 419.9,143.9 421.2,149.3 C422.4,154.2 423.1,159.1 424.1,164.0 C424.5,166.1 424.9,168.1 425.3,170.2" stroke="#3300e0" stroke-dasharray="5.5 3 1.5 3"/>
<path d="M381.7,86.9 C382.0,85.4 382.4,84.0 382.8,82.5 C383.1,81.4 383.4,80.3 383.9,79.2 C384.4,78.1 384.9,77.1 385.5,76.1 C386.3,74.8 387.3,73.6 388.3,72.4 C389.2,71.3 390.0,70.1 391.0,69.1 C391.7,68.4 392.4,67.8 393.2,67.3 C393.9,66.8 394.6,66.3 395.4,66.0 C396.1,65.7 396.9,65.6 397.6,65.4 C398.3,65.3 398.9,65.1 399.6,65.1 C400.2,65.1 400.9,65.3 401.5,65.5 C402.3,65.7 403.0,65.9 403.7,66.3 C404.5,66.7 405.2,67.4 405.9,68.0 C406.7,68.7 407.4,69.4 408.1,70.2 C409.0,71.2 409.9,72.2 410.8,73.2 C411.6,74.1 412.3,75.0 413.0,75.9 C413.9,77.1 414.9,78.3 415.8,79.5 C416.7,80.7 417.6,81.9 418.5,83.1 C419.6,84.5 420.7,85.9 421.8,87.2 C422.9,88.4 424.1,89.5 425.1,90.8 C425.8,91.7 426.5,92.6 427.2,93.6 C428.3,95.2 429.2,97.1 430.5,98.5 C432.8,101.0 435.8,103.0 438.6,105.0 C440.5,106.4 442.8,107.4 444.6,109.0 C447.4,111.4 449.8,114.1 452.0,117.0 C453.8,119.3 455.0,121.9 456.7,124.3 C458.5,126.8 460.2,129.4 462.3,131.7 C463.1,132.6 464.0,133.4 465.0,134.1 C466.2,134.9 467.6,135.4 468.7,136.3 C471.3,138.6 473.4,141.5 475.3,144.4 C476.5,146.2 477.3,148.2 478.2,150.2 L481.9,151.7 C482.6,154.5 483.4,157.3 484.8,159.8 C485.8,161.5 487.4,162.6 488.5,164.2 C489.8,166.1 490.7,168.3 491.7,170.4 L495.1,163.5 L502.4,170.4 L505.4,170.4" stroke="#ff2000" />
</g>
<g clip-path="url(#c10)" fill="none" stroke-width="1.78" stroke-linejoin="round">
<path d="M58.4,247.7 C58.7,246.5 59.0,245.3 59.3,244.1 C59.6,242.7 59.8,241.3 60.2,240.0 C60.6,238.7 60.9,237.4 61.5,236.2 C62.1,235.0 63.0,233.9 63.9,232.9 C64.8,231.8 65.7,230.8 66.7,229.9 C67.7,229.0 68.8,228.3 70.0,227.7 C71.1,227.1 72.3,226.4 73.6,226.3 C74.9,226.2 76.3,226.4 77.5,227.0 C78.7,227.6 79.5,228.7 80.4,229.6 C81.4,230.6 82.2,231.7 83.0,232.9 C83.7,234.0 84.2,235.3 84.8,236.5 C85.5,237.8 86.2,239.0 86.8,240.3 C87.4,241.5 88.0,242.7 88.5,243.9 C89.0,245.1 89.4,246.3 89.9,247.5 C90.4,248.7 90.9,249.8 91.4,251.0 C91.9,252.3 92.4,253.6 92.9,254.9 C93.4,256.1 93.8,257.3 94.3,258.5 C94.8,259.7 95.4,260.8 95.9,262.0 C96.4,263.2 96.8,264.5 97.3,265.7 C98.0,267.4 99.0,269.0 99.8,270.6 C100.6,272.3 101.4,273.9 102.2,275.6 C103.3,277.8 104.4,280.0 105.5,282.2 C106.6,284.4 107.7,286.6 108.8,288.8 C110.2,291.8 111.3,294.9 113.0,297.8 C114.2,299.8 115.8,301.6 117.1,303.6 C118.5,305.8 119.2,308.5 121.2,310.2 C122.4,311.2 124.2,310.9 125.4,311.9 C127.4,313.6 128.2,316.2 129.5,318.5 C131.0,321.2 132.2,324.0 133.6,326.7 C134.6,328.7 135.9,330.5 136.9,332.5 C137.4,333.4 137.8,334.4 138.2,335.3" stroke="#00c8ff" stroke-dasharray="1.7 2.4"/>
<path d="M58.0,264.3 C58.5,263.0 58.9,261.7 59.3,260.4 C59.8,258.4 59.8,256.2 60.6,254.3 C61.2,252.9 62.3,251.7 63.2,250.5 C64.4,249.0 65.5,247.3 67.0,246.1 C67.9,245.4 69.0,245.0 70.0,244.6 C70.8,244.3 71.6,244.0 72.5,243.9 C73.5,243.7 74.5,243.7 75.5,243.8 C76.4,243.9 77.2,244.0 78.0,244.4 C79.7,245.3 81.2,246.7 82.4,248.3 C83.6,249.9 84.0,252.0 84.8,253.8 C85.6,255.6 86.7,257.4 87.4,259.3 C88.1,261.2 88.4,263.2 89.0,265.1 C89.7,267.5 90.5,269.9 91.2,272.3 C93.6,280.3 95.8,288.3 98.1,296.3 C100.4,304.0 102.5,311.7 105.0,319.3 C106.8,324.6 108.7,329.9 110.7,335.2" stroke="#20ff00" stroke-dasharray="5.5 6.5"/>
<path d="M58.0,320.1 C58.7,314.5 59.3,308.9 61.0,303.6 C61.8,301.0 62.7,298.3 64.3,296.2 C66.2,293.7 69.0,291.9 71.7,290.1 L78.3,290.8 C79.8,292.5 81.2,294.3 82.4,296.2 C83.8,298.5 84.7,301.1 85.7,303.6 C87.0,306.8 88.0,310.2 89.0,313.5 C90.0,316.8 90.6,320.1 91.5,323.4 C92.4,326.7 93.3,330.1 94.3,333.4" stroke="#3300e0" stroke-dasharray="5.5 3 1.5 3"/>
<path d="M57.6,258.7 C58.2,256.5 58.7,254.3 59.3,252.1 C59.8,250.4 60.2,248.7 61.0,247.2 C61.7,246.0 62.7,245.0 63.7,243.9 C64.7,242.7 65.8,241.6 67.0,240.6 C68.0,239.8 69.1,239.0 70.3,238.4 C71.5,237.8 72.8,237.3 74.2,237.3 C75.4,237.3 76.5,237.8 77.5,238.4 C78.5,239.0 79.4,239.8 80.2,240.6 C81.5,241.9 82.5,243.5 83.5,245.0 C84.7,246.9 85.7,249.0 86.8,251.0 C87.9,253.2 89.0,255.4 90.1,257.6 C91.4,260.2 92.7,262.7 94.0,265.3 C94.6,266.5 95.1,267.7 95.8,268.9 C98.6,273.7 101.5,278.4 105.0,282.6 C107.1,285.1 109.8,287.0 111.9,289.5 C114.4,292.6 115.9,296.5 118.7,299.3 C119.7,300.3 121.2,300.6 122.2,301.6 C125.0,304.3 127.0,307.9 129.1,311.2 C131.2,314.5 133.0,318.1 134.8,321.6 L138.2,322.0 L141.7,335.4 L144.4,335.4" stroke="#ff2000" />
</g>
<g clip-path="url(#c11)" fill="none" stroke-width="1.78" stroke-linejoin="round">
<path d="M219.7,256.4 C220.2,255.1 220.7,253.8 221.1,252.4 C221.5,251.1 221.6,249.7 221.9,248.4 C222.2,247.1 222.4,245.7 223.0,244.5 C223.6,243.3 224.6,242.4 225.5,241.4 C226.4,240.4 227.4,239.6 228.5,238.8 C229.6,238.0 230.8,237.2 232.1,236.8 C233.3,236.5 234.6,236.3 235.8,236.6 C237.2,236.9 238.4,237.7 239.5,238.7 C240.4,239.5 241.0,240.7 241.7,241.8 C242.5,242.9 243.2,244.1 243.9,245.3 C244.5,246.4 245.0,247.6 245.5,248.7 C246.0,249.9 246.5,251.2 247.0,252.4 C247.5,253.7 248.0,255.1 248.5,256.4 C249.0,257.6 249.5,258.9 249.9,260.1 C250.3,261.3 250.6,262.6 251.0,263.8 C251.4,265.0 252.0,266.2 252.4,267.4 C252.8,268.6 253.1,270.0 253.5,271.2 C253.9,272.4 254.5,273.6 254.9,274.8 C255.1,275.5 255.4,276.1 255.6,276.8 C256.8,280.2 257.9,283.7 259.1,287.1 C260.3,290.5 261.6,294.0 262.8,297.4 C264.0,300.8 265.2,304.2 266.4,307.6 C267.4,310.3 268.3,313.0 269.4,315.7 C270.1,317.4 270.5,319.3 271.6,320.8 C272.3,321.8 273.7,322.1 274.5,323.0 C275.5,324.1 276.1,325.4 276.7,326.7 L280.4,324.5 C281.4,326.0 282.4,327.4 283.3,328.9 C284.2,330.3 285.0,331.8 285.8,333.3" stroke="#00c8ff" stroke-dasharray="1.7 2.4"/>
<path d="M219.8,282.2 L221.1,277.0" stroke="#20ff00" />
<path d="M222.6,270.8 C223.0,270.0 223.3,269.2 223.8,268.4 C224.2,267.7 224.7,267.1 225.2,266.4" stroke="#20ff00" />
<path d="M229.6,262.3 C230.4,261.9 231.2,261.5 232.1,261.2 C232.9,260.9 233.8,260.8 234.7,260.7" stroke="#20ff00" />
<path d="M240.2,263.8 L243.3,268.2" stroke="#20ff00" />
<path d="M245.4,274.2 L247.6,278.9" stroke="#20ff00" />
<path d="M249.0,284.7 C249.7,286.6 250.4,288.6 251.0,290.5 C252.1,293.8 253.2,297.1 254.2,300.5 C255.3,304.3 256.2,308.2 257.2,312.0 C258.2,315.7 259.2,319.3 260.3,323.0" stroke="#20ff00" stroke-dasharray="5.5 6.5"/>
<path d="M223.4,324.7 L225.1,319.7" stroke="#3300e0" />
<path d="M226.1,316.9 L226.6,316.0" stroke="#3300e0" />
<path d="M227.5,318.6 L228.9,323.0 L231.5,323.5" stroke="#3300e0" />
<path d="M233.2,320.3 C234.4,320.2 235.6,320.0 236.7,320.3 C237.4,320.5 237.9,320.9 238.5,321.3" stroke="#3300e0" />
<path d="M240.0,324.0 L240.6,324.8" stroke="#3300e0" />
<path d="M241.3,328.5 L242.7,332.9" stroke="#3300e0" />
<path d="M219.7,261.0 C220.2,259.0 220.7,257.0 221.3,255.0 C221.8,253.2 222.1,251.2 223.0,249.5 C223.8,248.0 225.1,246.8 226.3,245.6 C227.3,244.7 228.4,243.8 229.6,243.2 C230.8,242.6 232.1,242.0 233.4,242.1 C234.6,242.2 235.7,242.8 236.7,243.4 C238.0,244.3 239.0,245.5 240.0,246.7 C241.3,248.4 242.3,250.3 243.3,252.2 C244.6,254.7 245.6,257.3 246.6,259.9 C247.6,262.6 248.6,265.3 249.5,268.0 C250.6,271.1 251.4,274.4 252.5,277.5 C253.8,281.4 255.1,285.2 256.6,289.0 C258.2,293.1 260.2,297.0 262.0,301.0 C263.7,304.7 265.8,308.2 267.2,312.0 C268.4,315.3 269.3,318.8 270.1,322.3 L273.5,322.3 L276.4,335.6 L289.9,335.6" stroke="#ff2000" />
</g>
<g clip-path="url(#c12)" fill="none" stroke-width="1.78" stroke-linejoin="round">
<path d="M382.0,267.2 C382.5,262.8 383.0,258.3 385.0,254.5 C386.1,252.4 387.8,250.6 389.8,249.3 C391.0,248.5 392.5,248.1 394.0,247.8 C395.5,248.3 397.1,248.9 398.3,249.9 C400.5,251.7 402.1,254.2 403.5,256.7 C405.5,260.3 406.5,264.4 407.8,268.3 C409.4,273.1 410.6,278.1 412.0,283.0 C413.4,287.9 414.7,292.9 416.2,297.8 C417.9,303.5 419.8,309.1 421.5,314.7 C422.9,319.3 424.1,323.9 425.7,328.4 C426.5,330.6 427.4,332.8 428.4,334.9" stroke="#00c8ff" stroke-dasharray="1.7 2.4"/>
<path d="M382.0,302.7 C382.4,298.4 382.8,294.2 384.6,290.4 C385.6,288.4 387.0,286.4 388.8,285.1 C390.6,283.8 392.9,283.4 395.1,283.0 C396.6,283.5 398.2,284.0 399.3,285.1 C401.4,287.1 402.4,289.9 403.5,292.5 C405.4,296.9 406.6,301.6 407.8,306.2 C409.1,311.4 409.7,316.8 410.9,322.1 C411.8,326.3 413.0,330.5 414.1,334.7" stroke="#20ff00" stroke-dasharray="5.5 6.5"/>
<path d="M382.0,264.0 C382.6,260.0 383.1,255.9 385.0,252.4 C385.9,250.7 387.2,249.3 388.8,248.2 C390.2,247.3 391.8,246.9 393.4,246.5 C394.8,246.9 396.1,247.3 397.2,248.2 C399.0,249.6 400.3,251.6 401.4,253.5 C403.3,256.8 404.5,260.4 405.7,264.0 C407.0,267.8 407.9,271.7 408.8,275.6 C410.1,281.2 410.7,286.9 412.0,292.5 C412.9,296.1 414.2,299.5 415.1,303.1 C416.4,308.7 417.2,314.4 418.3,320.0 C419.3,325.2 420.4,330.4 421.5,335.6 L424.6,335.6" stroke="#ff2000" />
</g>
<g clip-path="url(#c20)" fill="none" stroke-width="1.78" stroke-linejoin="round">
<path d="M58.1,446.5 C58.6,443.0 59.0,439.5 60.5,436.4 C61.3,434.6 62.5,432.9 64.1,431.7 C65.3,430.8 66.7,430.3 68.2,429.9 C69.6,430.2 71.1,430.5 72.2,431.3 C74.0,432.6 75.1,434.5 76.2,436.4 C77.5,438.6 78.3,441.0 79.3,443.4 C80.4,446.1 81.3,448.8 82.3,451.5" stroke="#00c8ff" stroke-dasharray="1.7 2.4"/>
<path d="M58.1,494.6 L59.2,489.2" stroke="#20ff00" />
<path d="M60.6,482.8 L61.7,477.4" stroke="#20ff00" />
<path d="M65.6,479.3 L67.4,474.2" stroke="#20ff00" />
<path d="M69.7,476.5 L72.0,481.6" stroke="#20ff00" />
<path d="M76.1,485.2 L78.4,490.3" stroke="#20ff00" />
<path d="M79.8,496.2 L81.7,500.8" stroke="#20ff00" />
<path d="M58.1,434.8 L60.9,421.9 C61.8,420.9 62.7,419.8 63.9,419.1 C65.1,418.3 66.6,417.8 68.0,417.4 C69.2,417.9 70.4,418.3 71.3,419.1 C72.7,420.3 73.7,421.9 74.6,423.5 C75.9,425.7 77.0,428.2 77.9,430.6 C79.3,434.4 80.3,438.3 81.2,442.2 C82.6,447.9 83.5,453.7 84.5,459.5 C85.4,464.5 86.2,469.4 87.0,474.4 C87.4,476.9 87.8,479.3 88.2,481.8 L91.6,490.1" stroke="#ff2000" />
</g>
<g clip-path="url(#c21)" fill="none" stroke-width="1.78" stroke-linejoin="round">
<path d="M220.1,463.2 C220.4,461.9 220.8,460.7 221.1,459.4 C221.5,458.1 221.7,456.7 222.2,455.4 C222.7,454.2 223.3,453.1 224.1,452.1 C225.0,451.1 226.2,450.3 227.4,449.6 C228.6,450.4 229.7,451.2 230.7,452.2 C231.7,453.2 232.5,454.3 233.3,455.4 C234.1,456.4 234.8,457.4 235.5,458.4 C236.3,459.5 237.0,460.6 237.7,461.7 C238.4,462.9 238.9,464.1 239.5,465.3 C240.1,466.6 240.7,467.8 241.2,469.1 C241.8,470.6 242.2,472.1 242.6,473.6" stroke="#00c8ff" stroke-dasharray="1.7 2.4"/>
<path d="M219.7,440.8 L222.6,429.0 L226.6,426.5 C227.7,426.8 228.9,427.0 229.9,427.5 C231.2,428.1 232.4,429.1 233.6,430.0 C234.7,432.3 235.8,434.7 236.6,437.1 C238.2,442.1 239.0,447.4 240.2,452.5 C241.2,456.9 242.3,461.3 243.4,465.7 C244.1,470.4 244.7,475.0 245.4,479.7 C245.9,483.1 246.3,486.5 246.8,489.9" stroke="#ff2000" />
</g>
<g clip-path="url(#c22)" fill="none" stroke-width="1.78" stroke-linejoin="round">
<path d="M382.1,487.4 C382.7,486.2 383.3,485.0 384.2,484.0 C385.1,483.0 386.3,482.2 387.5,481.5 L390.9,482.0 C391.6,483.0 392.4,484.1 393.0,485.2 C393.6,486.4 394.1,487.6 394.6,488.9 C395.1,490.2 395.5,491.5 395.9,492.8 C396.3,494.1 396.7,495.3 397.1,496.6 C397.5,498.1 397.9,499.7 398.3,501.2" stroke="#00c8ff" stroke-dasharray="1.7 2.4"/>
<path d="M381.7,447.8 L384.6,437.0 L388.3,436.3 L391.9,439.4 L395.6,444.1 L398.6,460.2 L401.9,472.0 L405.2,494.0" stroke="#ff2000" />
</g>
<g font-family="Liberation Sans, sans-serif" font-size="13" fill="#000" stroke="#000" stroke-width="0.6">
<text x="51.9" y="171.1" text-anchor="end" textLength="7.6" lengthAdjust="spacingAndGlyphs">0</text>
<text x="51.9" y="131.1" text-anchor="end" textLength="7.6" lengthAdjust="spacingAndGlyphs">2</text>
<text x="51.9" y="87.1" text-anchor="end" textLength="7.6" lengthAdjust="spacingAndGlyphs">4</text>
<text x="51.9" y="43.0" text-anchor="end" textLength="7.6" lengthAdjust="spacingAndGlyphs">6</text>
<text x="51.9" y="336.4" text-anchor="end" textLength="7.6" lengthAdjust="spacingAndGlyphs">0</text>
<text x="51.9" y="296.4" text-anchor="end" textLength="7.6" lengthAdjust="spacingAndGlyphs">2</text>
<text x="51.9" y="252.4" text-anchor="end" textLength="7.6" lengthAdjust="spacingAndGlyphs">4</text>
<text x="51.9" y="208.3" text-anchor="end" textLength="7.6" lengthAdjust="spacingAndGlyphs">6</text>
<text x="51.9" y="501.7" text-anchor="end" textLength="7.6" lengthAdjust="spacingAndGlyphs">0</text>
<text x="51.9" y="461.7" text-anchor="end" textLength="7.6" lengthAdjust="spacingAndGlyphs">2</text>
<text x="51.9" y="417.7" text-anchor="end" textLength="7.6" lengthAdjust="spacingAndGlyphs">4</text>
<text x="51.9" y="373.6" text-anchor="end" textLength="7.6" lengthAdjust="spacingAndGlyphs">6</text>
<text x="56.0" y="519.3" text-anchor="middle" textLength="7.6" lengthAdjust="spacingAndGlyphs">0</text>
<text x="89.2" y="519.3" text-anchor="middle" textLength="7.6" lengthAdjust="spacingAndGlyphs">2</text>
<text x="122.5" y="519.3" text-anchor="middle" textLength="7.6" lengthAdjust="spacingAndGlyphs">4</text>
<text x="155.7" y="519.3" text-anchor="middle" textLength="7.6" lengthAdjust="spacingAndGlyphs">6</text>
<text x="189.0" y="519.3" text-anchor="middle" textLength="7.6" lengthAdjust="spacingAndGlyphs">8</text>
<text x="218.2" y="519.3" text-anchor="middle" textLength="7.6" lengthAdjust="spacingAndGlyphs">0</text>
<text x="251.4" y="519.3" text-anchor="middle" textLength="7.6" lengthAdjust="spacingAndGlyphs">2</text>
<text x="284.7" y="519.3" text-anchor="middle" textLength="7.6" lengthAdjust="spacingAndGlyphs">4</text>
<text x="317.9" y="519.3" text-anchor="middle" textLength="7.6" lengthAdjust="spacingAndGlyphs">6</text>
<text x="351.2" y="519.3" text-anchor="middle" textLength="7.6" lengthAdjust="spacingAndGlyphs">8</text>
<text x="380.1" y="519.3" text-anchor="middle" textLength="7.6" lengthAdjust="spacingAndGlyphs">0</text>
<text x="413.3" y="519.3" text-anchor="middle" textLength="7.6" lengthAdjust="spacingAndGlyphs">2</text>
<text x="446.6" y="519.3" text-anchor="middle" textLength="7.6" lengthAdjust="spacingAndGlyphs">4</text>
<text x="479.8" y="519.3" text-anchor="middle" textLength="7.6" lengthAdjust="spacingAndGlyphs">6</text>
<text x="513.1" y="519.3" text-anchor="middle" textLength="7.6" lengthAdjust="spacingAndGlyphs">8</text>
</g>
<g font-family="Liberation Sans, sans-serif" font-size="13" fill="#000" stroke="#000" stroke-width="0.6">
<text x="74.0" y="27.9" textLength="24.8" lengthAdjust="spacingAndGlyphs">10.0</text>
<path d="M113.2,19.1 L105.8,21.5 L112.9,24.0 M107.2,25.3 H113.1 M107.2,26.9 H113.1" fill="none" stroke="#000" stroke-width="1.3"/>
<text x="120.3" y="27.9" textLength="16.6" lengthAdjust="spacingAndGlyphs">log</text>
<text x="143.5" y="27.9" textLength="9.0" lengthAdjust="spacingAndGlyphs">M</text>
<text x="152.8" y="30.7" font-size="7.6" font-weight="bold" stroke-width="0.15" textLength="4.7" lengthAdjust="spacingAndGlyphs">h</text>
<text x="163.8" y="27.9" textLength="8" lengthAdjust="spacingAndGlyphs">&lt;</text>
<text x="180.2" y="27.9" textLength="24.4" lengthAdjust="spacingAndGlyphs">10.5</text>
<text x="236.2" y="27.9" textLength="24.8" lengthAdjust="spacingAndGlyphs">10.5</text>
<path d="M275.4,19.1 L268.0,21.5 L275.1,24.0 M269.4,25.3 H275.3 M269.4,26.9 H275.3" fill="none" stroke="#000" stroke-width="1.3"/>
<text x="282.5" y="27.9" textLength="16.6" lengthAdjust="spacingAndGlyphs">log</text>
<text x="305.7" y="27.9" textLength="9.0" lengthAdjust="spacingAndGlyphs">M</text>
<text x="315.0" y="30.7" font-size="7.6" font-weight="bold" stroke-width="0.15" textLength="4.7" lengthAdjust="spacingAndGlyphs">h</text>
<text x="326.0" y="27.9" textLength="8" lengthAdjust="spacingAndGlyphs">&lt;</text>
<text x="342.4" y="27.9" textLength="24.4" lengthAdjust="spacingAndGlyphs">11.0</text>
<text x="398.1" y="27.9" textLength="24.8" lengthAdjust="spacingAndGlyphs">11.0</text>
<path d="M437.3,19.1 L429.9,21.5 L437.0,24.0 M431.3,25.3 H437.2 M431.3,26.9 H437.2" fill="none" stroke="#000" stroke-width="1.3"/>
<text x="444.4" y="27.9" textLength="16.6" lengthAdjust="spacingAndGlyphs">log</text>
<text x="467.6" y="27.9" textLength="9.0" lengthAdjust="spacingAndGlyphs">M</text>
<text x="476.9" y="30.7" font-size="7.6" font-weight="bold" stroke-width="0.15" textLength="4.7" lengthAdjust="spacingAndGlyphs">h</text>
<text x="487.9" y="27.9" textLength="8" lengthAdjust="spacingAndGlyphs">&lt;</text>
<text x="504.3" y="27.9" textLength="24.4" lengthAdjust="spacingAndGlyphs">11.5</text>
<text x="74.0" y="192.9" textLength="24.8" lengthAdjust="spacingAndGlyphs">11.5</text>
<path d="M113.2,184.1 L105.8,186.5 L112.9,189.0 M107.2,190.3 H113.1 M107.2,192.0 H113.1" fill="none" stroke="#000" stroke-width="1.3"/>
<text x="120.3" y="192.9" textLength="16.6" lengthAdjust="spacingAndGlyphs">log</text>
<text x="143.5" y="192.9" textLength="9.0" lengthAdjust="spacingAndGlyphs">M</text>
<text x="152.8" y="195.7" font-size="7.6" font-weight="bold" stroke-width="0.15" textLength="4.7" lengthAdjust="spacingAndGlyphs">h</text>
<text x="163.8" y="192.9" textLength="8" lengthAdjust="spacingAndGlyphs">&lt;</text>
<text x="180.2" y="192.9" textLength="24.4" lengthAdjust="spacingAndGlyphs">12.0</text>
<text x="236.2" y="192.9" textLength="24.8" lengthAdjust="spacingAndGlyphs">12.0</text>
<path d="M275.4,184.1 L268.0,186.5 L275.1,189.0 M269.4,190.3 H275.3 M269.4,192.0 H275.3" fill="none" stroke="#000" stroke-width="1.3"/>
<text x="282.5" y="192.9" textLength="16.6" lengthAdjust="spacingAndGlyphs">log</text>
<text x="305.7" y="192.9" textLength="9.0" lengthAdjust="spacingAndGlyphs">M</text>
<text x="315.0" y="195.7" font-size="7.6" font-weight="bold" stroke-width="0.15" textLength="4.7" lengthAdjust="spacingAndGlyphs">h</text>
<text x="326.0" y="192.9" textLength="8" lengthAdjust="spacingAndGlyphs">&lt;</text>
<text x="342.4" y="192.9" textLength="24.4" lengthAdjust="spacingAndGlyphs">12.5</text>
<text x="398.1" y="192.9" textLength="24.8" lengthAdjust="spacingAndGlyphs">12.5</text>
<path d="M437.3,184.1 L429.9,186.5 L437.0,189.0 M431.3,190.3 H437.2 M431.3,192.0 H437.2" fill="none" stroke="#000" stroke-width="1.3"/>
<text x="444.4" y="192.9" textLength="16.6" lengthAdjust="spacingAndGlyphs">log</text>
<text x="467.6" y="192.9" textLength="9.0" lengthAdjust="spacingAndGlyphs">M</text>
<text x="476.9" y="195.7" font-size="7.6" font-weight="bold" stroke-width="0.15" textLength="4.7" lengthAdjust="spacingAndGlyphs">h</text>
<text x="487.9" y="192.9" textLength="8" lengthAdjust="spacingAndGlyphs">&lt;</text>
<text x="504.3" y="192.9" textLength="24.4" lengthAdjust="spacingAndGlyphs">13.0</text>
<text x="74.0" y="358.2" textLength="24.8" lengthAdjust="spacingAndGlyphs">13.0</text>
<path d="M113.2,349.4 L105.8,351.8 L112.9,354.3 M107.2,355.6 H113.1 M107.2,357.2 H113.1" fill="none" stroke="#000" stroke-width="1.3"/>
<text x="120.3" y="358.2" textLength="16.6" lengthAdjust="spacingAndGlyphs">log</text>
<text x="143.5" y="358.2" textLength="9.0" lengthAdjust="spacingAndGlyphs">M</text>
<text x="152.8" y="361.0" font-size="7.6" font-weight="bold" stroke-width="0.15" textLength="4.7" lengthAdjust="spacingAndGlyphs">h</text>
<text x="163.8" y="358.2" textLength="8" lengthAdjust="spacingAndGlyphs">&lt;</text>
<text x="180.2" y="358.2" textLength="24.4" lengthAdjust="spacingAndGlyphs">13.5</text>
<text x="236.2" y="358.2" textLength="24.8" lengthAdjust="spacingAndGlyphs">13.5</text>
<path d="M275.4,349.4 L268.0,351.8 L275.1,354.3 M269.4,355.6 H275.3 M269.4,357.2 H275.3" fill="none" stroke="#000" stroke-width="1.3"/>
<text x="282.5" y="358.2" textLength="16.6" lengthAdjust="spacingAndGlyphs">log</text>
<text x="305.7" y="358.2" textLength="9.0" lengthAdjust="spacingAndGlyphs">M</text>
<text x="315.0" y="361.0" font-size="7.6" font-weight="bold" stroke-width="0.15" textLength="4.7" lengthAdjust="spacingAndGlyphs">h</text>
<text x="326.0" y="358.2" textLength="8" lengthAdjust="spacingAndGlyphs">&lt;</text>
<text x="342.4" y="358.2" textLength="24.4" lengthAdjust="spacingAndGlyphs">14.0</text>
<text x="396.7" y="358.2" textLength="16.6" lengthAdjust="spacingAndGlyphs">log</text>
<text x="419.9" y="358.2" textLength="9.0" lengthAdjust="spacingAndGlyphs">M</text>
<text x="429.1" y="361.0" font-size="7.6" font-weight="bold" stroke-width="0.15" textLength="4.7" lengthAdjust="spacingAndGlyphs">h</text>
<path d="M441.4,349.7 L448.4,352.4 L441.4,354.5 M441.2,355.7 H447.3 M441.2,357.6 H447.3" fill="none" stroke="#000" stroke-width="1.25"/>
<text x="456.1" y="358.2" textLength="24.4" lengthAdjust="spacingAndGlyphs">14.0</text>
</g>
<line x1="446.8" y1="443.9" x2="479.8" y2="443.9" stroke="#ff2000" stroke-width="1.78" />
<text x="487.1" y="445.4" font-family="Liberation Sans, sans-serif" font-size="11.6" letter-spacing="0.4" fill="#ff2000" stroke="#ff2000" stroke-width="0.45" textLength="39.4" lengthAdjust="spacingAndGlyphs">cluster</text>
<line x1="446.8" y1="458.7" x2="479.8" y2="458.7" stroke="#00c8ff" stroke-width="1.78" stroke-dasharray="1.7 2.4"/>
<text x="487.1" y="460.2" font-family="Liberation Sans, sans-serif" font-size="11.6" letter-spacing="0.4" fill="#00c8ff" stroke="#00c8ff" stroke-width="0.45" textLength="47.1" lengthAdjust="spacingAndGlyphs">filament</text>
<line x1="446.8" y1="474.4" x2="479.8" y2="474.4" stroke="#20ff00" stroke-width="1.78" stroke-dasharray="5.5 6.5"/>
<text x="487.1" y="475.9" font-family="Liberation Sans, sans-serif" font-size="11.6" letter-spacing="0.4" fill="#20ff00" stroke="#20ff00" stroke-width="0.45" textLength="30.6" lengthAdjust="spacingAndGlyphs">sheet</text>
<line x1="446.8" y1="489.7" x2="479.8" y2="489.7" stroke="#3300e0" stroke-width="1.78" stroke-dasharray="5.5 3 1.5 3"/>
<text x="487.1" y="491.2" font-family="Liberation Sans, sans-serif" font-size="11.6" letter-spacing="0.4" fill="#3300e0" stroke="#3300e0" stroke-width="0.45" textLength="22.9" lengthAdjust="spacingAndGlyphs">void</text>
<text x="211.3" y="540.5" font-family="Liberation Sans, sans-serif" font-size="17.5" letter-spacing="1.2" fill="#000" stroke="#000" stroke-width="0.15" textLength="175.4" lengthAdjust="spacingAndGlyphs">formation redshift</text>
<g transform="translate(17.8,280.7) rotate(-90)" font-family="Liberation Sans, sans-serif" fill="#000" stroke="#000" stroke-width="0.15">
<text x="-1" y="0" font-size="17.5" textLength="25.4" lengthAdjust="spacingAndGlyphs">log</text>
<text x="35.5" y="0" font-size="17.5" textLength="12.4" lengthAdjust="spacingAndGlyphs">N</text>
<text x="49.0" y="4.4" font-size="8.2" font-weight="bold" textLength="6.6" lengthAdjust="spacingAndGlyphs">h</text>
</g>
</svg>
</body></html>
